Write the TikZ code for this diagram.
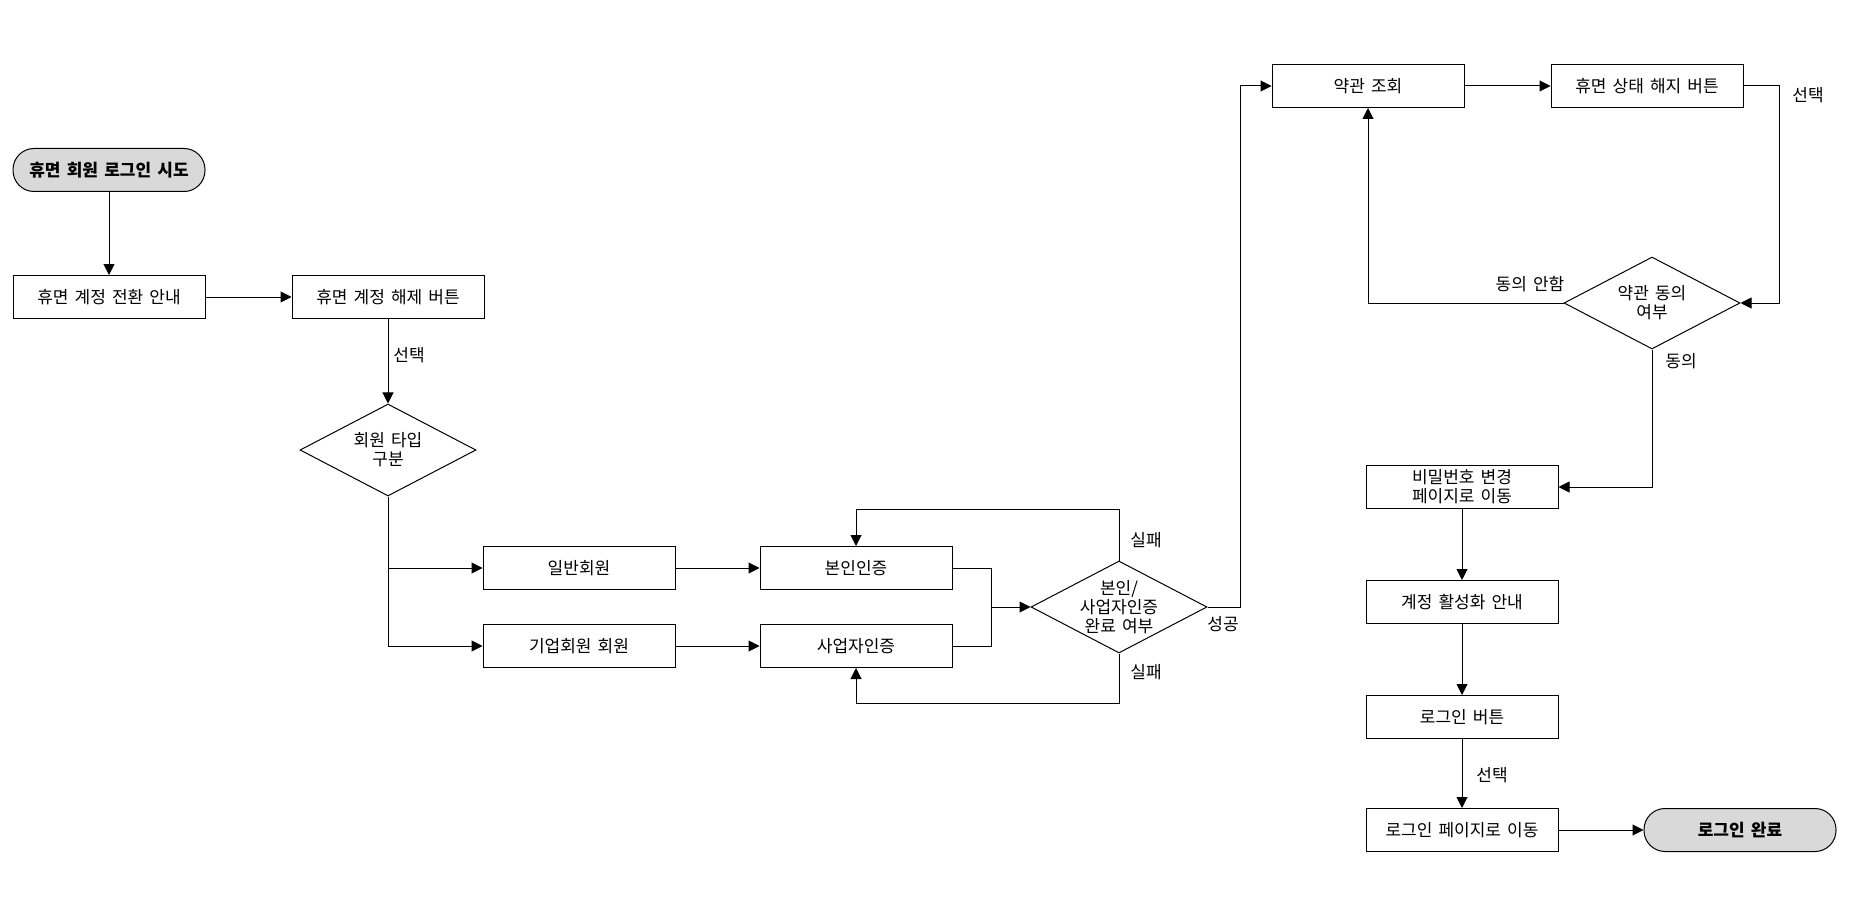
\documentclass[tikz,border=0pt]{standalone}
\usepackage{fontspec}
\setmainfont[WordSpace=1.6]{Noto Sans CJK KR}
\usetikzlibrary{arrows.meta,shapes.geometric}
\definecolor{termgray}{RGB}{217,217,217}
\tikzset{
  txtfont/.style={font=\fontsize{17}{19}\selectfont},
  stepbox/.style={draw, line width=1pt, minimum width=192pt, minimum height=43pt, inner sep=0pt, align=center, txtfont},
  term/.style={stepbox, fill=termgray, rounded corners=21pt, font=\fontsize{17}{19}\selectfont\bfseries},
  dia/.style={draw, shape=diamond, line width=1pt, minimum width=176pt, minimum height=92pt, inner sep=0pt},
  diatext/.style={align=center, inner sep=0pt, txtfont},
  lbl/.style={inner sep=0pt, txtfont},
  arr/.style={-{Triangle[length=11pt,width=11pt]}, line width=1pt},
  ln/.style={line width=1pt}
}
\begin{document}
\begin{tikzpicture}[x=1pt,y=-1pt]
\fill[white] (0,0) rectangle (1866,920);
\useasboundingbox (0,0) rectangle (1866,920);

% nodes
\node[term] (start) at (109,170) {휴면 회원 로그인 시도};
\node[stepbox] (b1) at (109,297) {휴면 계정 전환 안내};
\node[stepbox] (b2) at (388,297) {휴면 계정 해제 버튼};
\node[dia] (d1) at (388,450) {};
\node[diatext] (d1t) at (d1) {회원 타입\\구분};
\node[stepbox] (g1) at (579,568) {일반회원};
\node[stepbox] (g2) at (579,646) {기업회원 회원};
\node[stepbox] (v1) at (856,568) {본인인증};
\node[stepbox] (v2) at (856,646) {사업자인증};
\node[dia] (d2) at (1119,607) {};
\node[diatext] (d2t) at (d2) {본인/\\사업자인증\\완료 여부};
\node[stepbox] (yak) at (1368,86) {약관 조회};
\node[stepbox] (hyu) at (1647,86) {휴면 상태 해지 버튼};
\node[dia] (d3) at (1652,303) {};
\node[diatext] (d3t) at (d3) {약관 동의\\여부};
\node[stepbox] (pw) at (1462,487) {비밀번호 변경\\페이지로 이동};
\node[stepbox] (act) at (1462,602) {계정 활성화 안내};
\node[stepbox] (lb) at (1462,717) {로그인 버튼};
\node[stepbox] (lp) at (1462,830) {로그인 페이지로 이동};
\node[term] (fin) at (1740,830) {로그인 완료};

% connectors
\draw[arr] (start) -- (b1);
\draw[arr] (b1) -- (b2);
\draw[arr] (b2) -- (d1);
\draw[arr] (d1.south) |- (g1.west);
\draw[arr] (d1.south) |- (g2.west);
\draw[arr] (g1) -- (v1);
\draw[arr] (g2) -- (v2);
\coordinate (m) at (991,607);
\draw[ln] (v1.east) -| (m);
\draw[ln] (v2.east) -| (m);
\draw[arr] (m) -- (d2.west);
\draw[arr] (d2.north) -- ++(0,-51) -| (v1.north);
\draw[arr] (d2.south) -- ++(0,50) -| (v2.south);
\draw[arr] (d2.east) -- ++(33,0) |- (yak.west);
\draw[arr] (yak) -- (hyu);
\draw[arr] (hyu.east) -- ++(36,0) |- (d3.east);
\draw[arr] (d3.west) -| (yak.south);
\draw[arr] (d3.south) |- (pw.east);
\draw[arr] (pw) -- (act);
\draw[arr] (act) -- (lb);
\draw[arr] (lb) -- (lp);
\draw[arr] (lp) -- (fin);

% labels
\node[lbl] (l1) at (409,355) {선택};
\node[lbl] (l2) at (1146,540) {실패};
\node[lbl] (l3) at (1146,672) {실패};
\node[lbl] (l4) at (1223,624) {성공};
\node[lbl] (l5) at (1808,95) {선택};
\node[lbl] (l6) at (1530,284) {동의 안함};
\node[lbl] (l7) at (1681,361) {동의};
\node[lbl] (l8) at (1492,775) {선택};
\end{tikzpicture}
\end{document}
